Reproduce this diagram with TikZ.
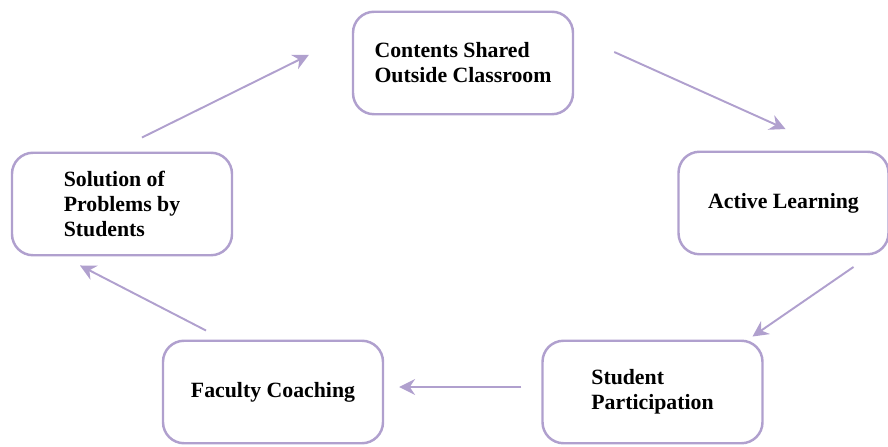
\documentclass[tikz,border=0pt]{standalone}
\usepackage{fontspec}
\setmainfont{Liberation Serif}
\usepackage{tikz}
\usetikzlibrary{arrows.meta}
\usepackage{xcolor}
\definecolor{lavender}{RGB}{176,160,206}

\begin{document}
\begin{tikzpicture}[
  box/.style={draw=lavender, line width=1.4pt, rounded corners=12pt, fill=white,
    minimum width=4.4cm, minimum height=2.05cm, align=left,
    font=\fontsize{12.4}{14.2}\selectfont\bfseries},
  arr/.style={draw=lavender, line width=1.1pt, -{Stealth[length=9pt,width=9pt,inset=3pt]}}
]
\useasboundingbox (0,0) rectangle (17.76,8.92);

% the cycle
\node[box] (top) at (9.26,7.66) {Contents Shared\\Outside Classroom};
\node[box, minimum width=4.2cm] (act) at (15.67,4.86) {Active Learning};
\node[box] (part) at (13.05,1.08) {Student\\Participation};
\node[box] (fac) at (5.46,1.08) {Faculty Coaching};
\node[box] (sol) at (2.44,4.84) {Solution of\\Problems by\\Students};

% arrows between the steps
\draw[arr] ([shift={(0.4,0.28)}]sol.north) -- ([shift={(-0.86,0.16)}]top.west);
\draw[arr] ([shift={(0.8,0.22)}]top.east) -- ([shift={(0.04,0.43)}]act.north);
\draw[arr] ([shift={(1.4,-0.23)}]act.south) -- ([shift={(2.0,0.06)}]part.north);
\draw[arr] ([shift={(-0.4,0.1)}]part.west) -- ([shift={(0.3,0.1)}]fac.east);
\draw[arr] ([shift={(-1.34,0.18)}]fac.north) -- ([shift={(-0.84,-0.18)}]sol.south);
\end{tikzpicture}
\end{document}
